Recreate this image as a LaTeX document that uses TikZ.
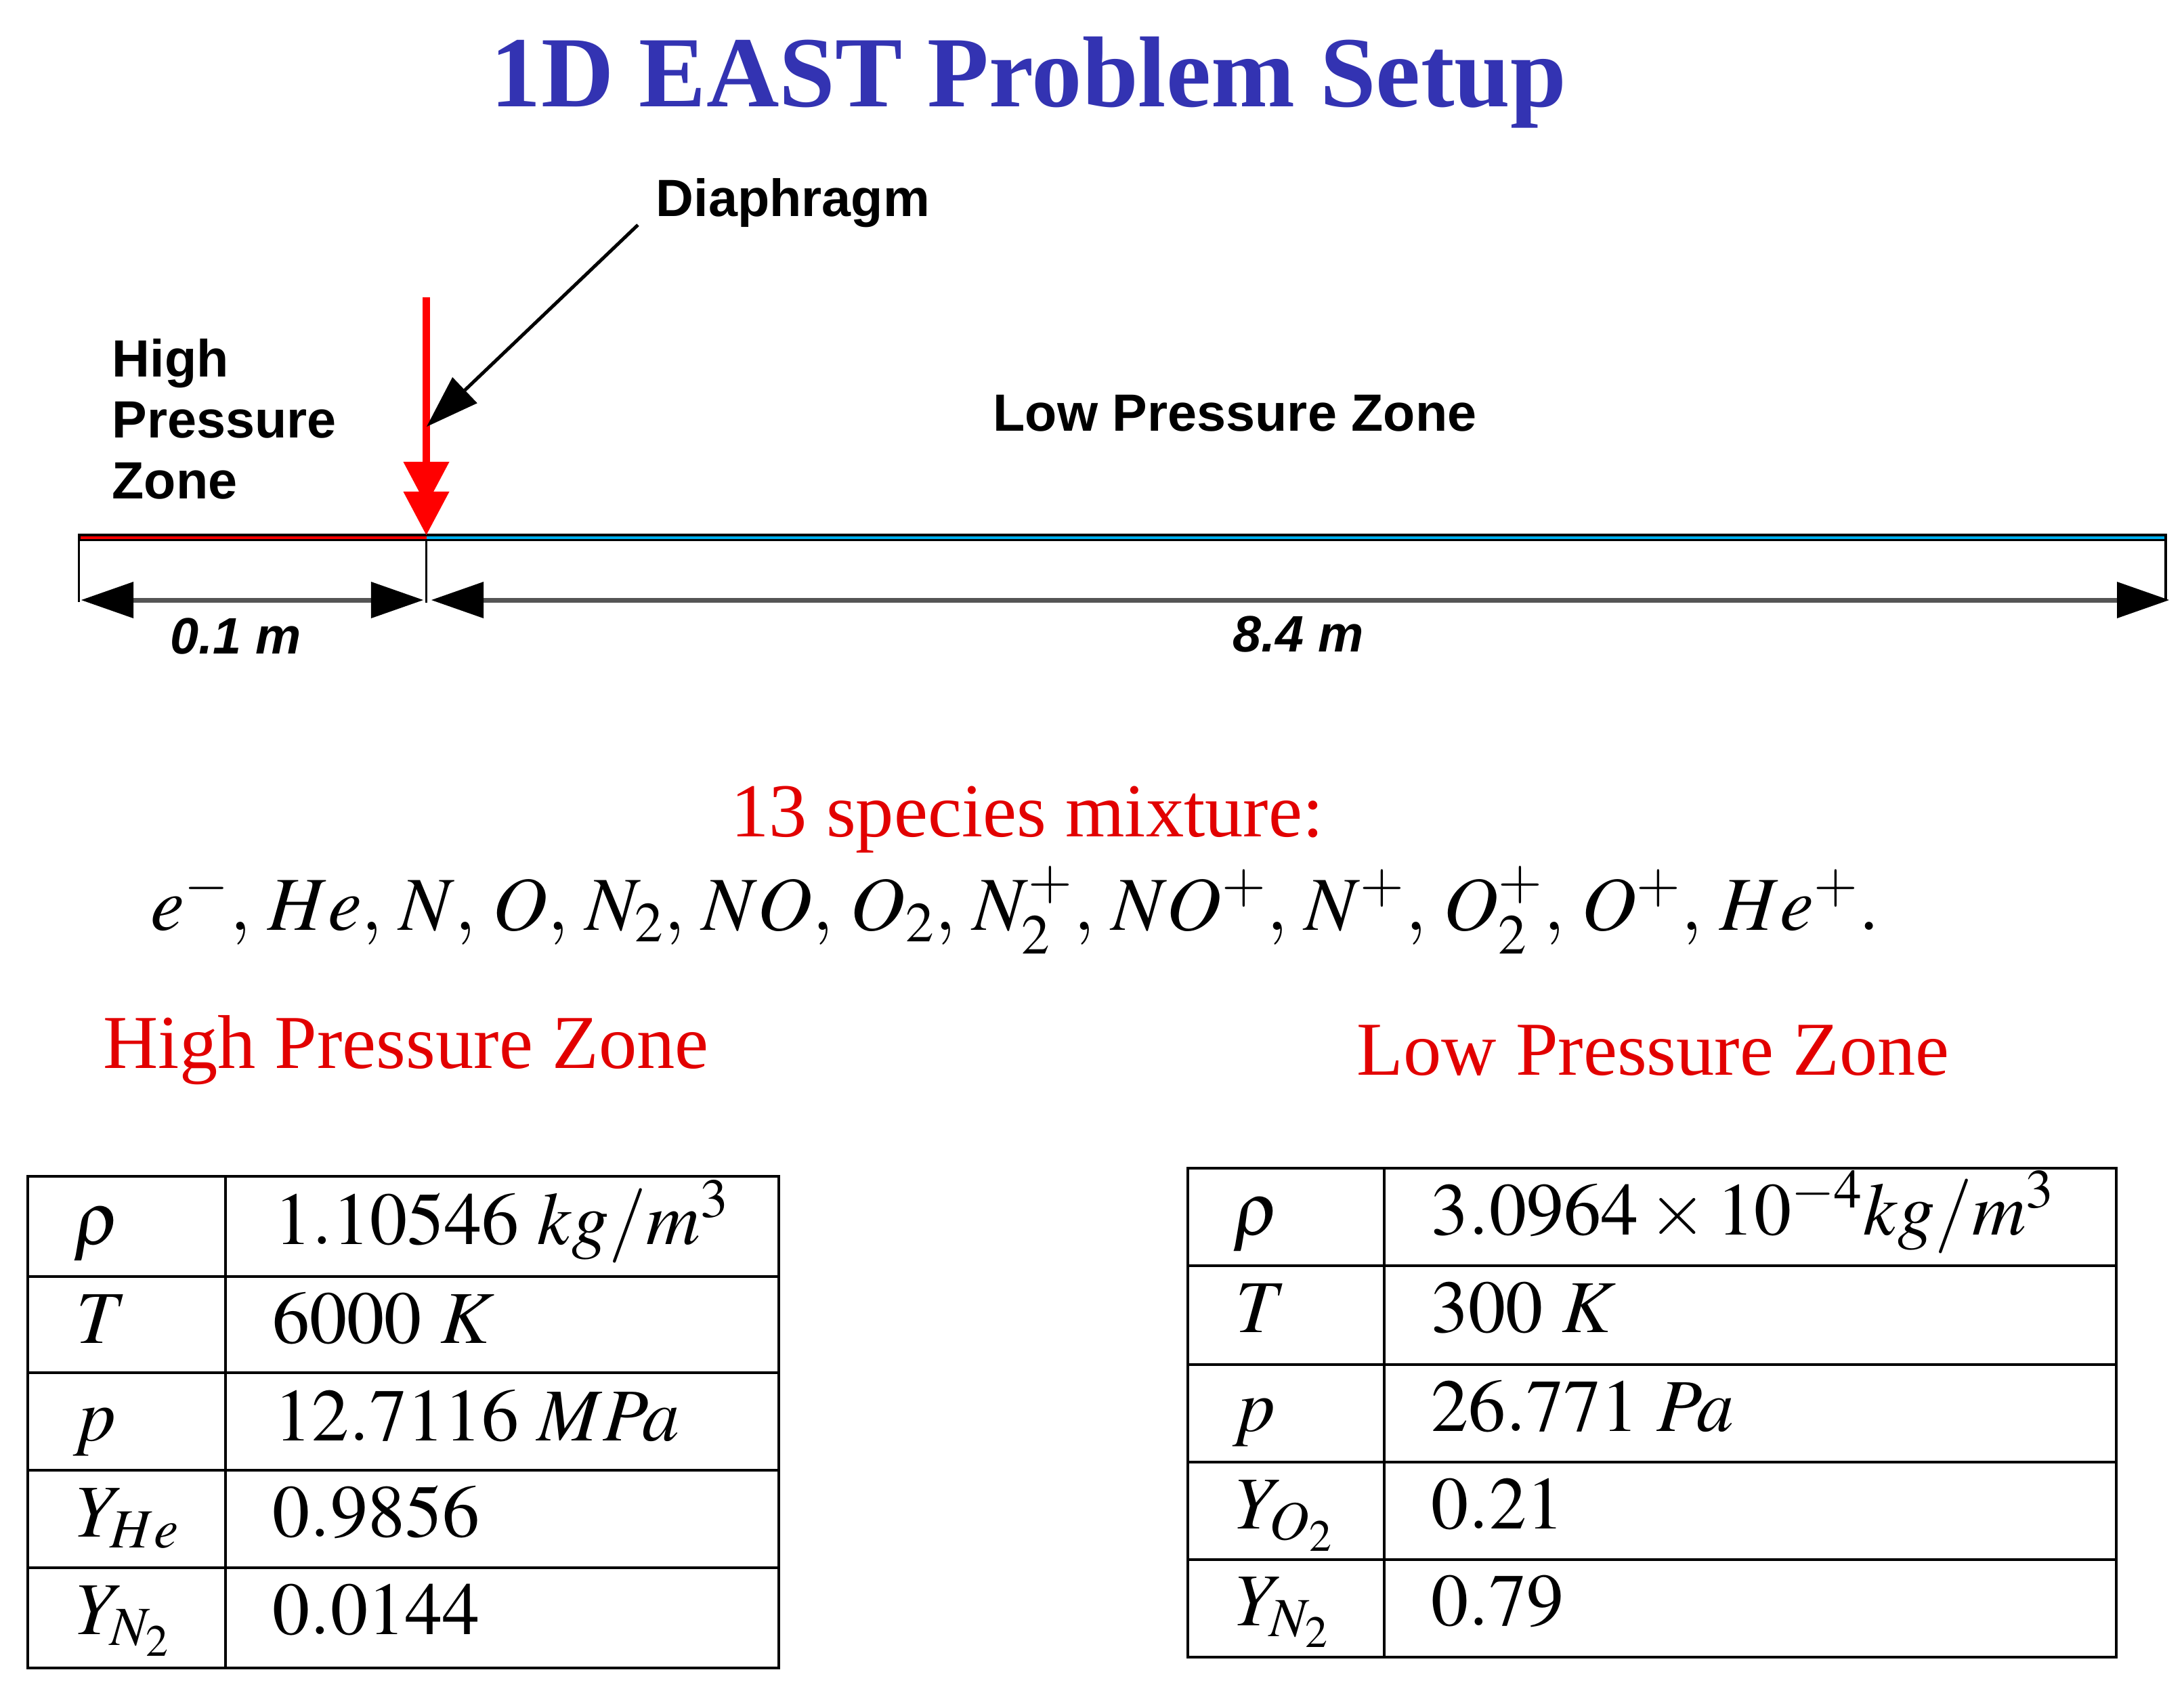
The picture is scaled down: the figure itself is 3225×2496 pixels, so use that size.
\documentclass[tikz,border=0pt]{standalone}
\usepackage{mathptmx}
\usepackage[no-math]{fontspec}
\setmainfont{Liberation Serif}
\setsansfont{Liberation Sans}
\usetikzlibrary{arrows.meta}
\definecolor{titleblue}{RGB}{51,51,178}
\definecolor{txtred}{RGB}{226,0,0}
\definecolor{tubeblue}{RGB}{0,176,240}
\definecolor{dimgray}{RGB}{85,85,85}
\newcommand{\sep}{,\mskip 2mu}
\tikzset{
  lbl/.style={font=\sffamily\bfseries\fontsize{22}{26}\selectfont, inner sep=0pt, anchor=base west},
  dimlbl/.style={font=\sffamily\bfseries\itshape\fontsize{21.5}{25}\selectfont, inner sep=0pt, anchor=base west},
  redhead/.style={font=\fontsize{32}{38}\selectfont, text=txtred, inner sep=0pt, anchor=base west},
  cell/.style={font=\fontsize{31.3}{37}\selectfont, inner sep=0pt, anchor=base west},
  gridline/.style={line width=0.045cm},
  ticks/.style={line width=0.035cm},
  dimarrow/.style={draw=dimgray, line width=0.07cm,
    {Triangle[length=0.77cm,width=0.54cm,color=black,line width=0pt]}-{Triangle[length=0.77cm,width=0.54cm,color=black,line width=0pt]}},
  redarrow/.style={draw=red, line width=0.11cm, -{Triangle[length=0.64cm,width=0.68cm,line width=0pt]}},
  diaarrow/.style={line width=0.05cm, -{Triangle[length=0.78cm,width=0.53cm,line width=0pt]}},
}
\begin{document}
\begin{tikzpicture}[x=0.01cm,y=-0.01cm]
\useasboundingbox (0,0) rectangle (3225,2496);

% title
\node[font=\bfseries\fontsize{42.3}{50}\selectfont, text=titleblue, inner sep=0pt, anchor=base] (title) at (1519,157) {1D EAST Problem Setup};

% top labels
\node[lbl] (dia) at (968,319) {Diaphragm};
\node[lbl] (hp1) at (165,556) {High};
\node[lbl] (hp2) at (165,646) {Pressure};
\node[lbl] (hp3) at (165,736) {Zone};
\node[lbl] (lpz) at (1466,636) {Low Pressure Zone};

% tube
\fill[black] (115,788) rectangle (3200,799);
\fill[red] (119,792) rectangle (630,796);
\fill[tubeblue] (630,792) rectangle (3196,796);

% ticks
\coordinate (tubeL) at (116.5,788);
\coordinate (dimL) at (116.5,889);
\coordinate (tubeM) at (629.5,799);
\coordinate (dimM) at (629.5,890);
\coordinate (tubeR) at (3198,788);
\coordinate (dimR) at (3198,887);
\draw[ticks] (tubeL) -- (dimL);
\draw[ticks] (tubeM) -- (dimM);
\draw[ticks] (tubeR) -- (dimR);

% dimension arrows
\coordinate (a1s) at (120,886);
\coordinate (a1e) at (625,886);
\coordinate (a2s) at (637,886);
\coordinate (a2e) at (3203,886);
\draw[dimarrow] (a1s) -- (a1e);
\draw[dimarrow] (a2s) -- (a2e);
\node[dimlbl] (d1) at (251,965) {0.1 m};
\node[dimlbl] (d2) at (1820,962) {8.4 m};

% red diaphragm arrow (double head)
\coordinate (rtop) at (629.5,439);
\coordinate (rtip1) at (629.5,746);
\coordinate (rmid) at (629.5,700);
\coordinate (rtip) at (629.5,790);
\draw[redarrow] (rtop) -- (rtip1);
\draw[redarrow] (rmid) -- (rtip);

% black pointer from Diaphragm label
\coordinate (dtip) at (630,630);
\draw[diaarrow] ([xshift=-0.26cm,yshift=0.04cm]dia.south west) -- (dtip);

% species
\node[font=\fontsize{32}{38}\selectfont, text=txtred, inner sep=0pt, anchor=base] (spec) at (1517,1235) {13 species mixture:};
\node[font=\fontsize{32}{38}\selectfont, inner sep=0pt, anchor=base west] (speclist) at (222,1373)
  {$e^-\sep He\sep N\sep O\sep N_2\sep NO\sep O_2\sep N_2^+\sep NO^+\sep N^+\sep O_2^+\sep O^+\sep He^+.$};

% zone headings
\node[redhead] (hpz) at (152,1577) {High Pressure Zone};
\node[redhead] (lpz2) at (2003,1587) {Low Pressure Zone};

% left table
\draw[gridline] (41,1737) rectangle (1150,2463);
\draw[gridline] (333,1737) -- (333,2463);
\foreach \yy in {1885,2027,2171,2315} \draw[gridline] (41,\yy) -- (1150,\yy);
\node[cell] (lrho) at (108,1837) {$\rho$};
\node[cell] (lT) at (112,1983) {$T$};
\node[cell] (lp) at (108,2127) {$p$};
\node[cell] (lY1) at (112,2269) {$Y_{He}$};
\node[cell] (lY2) at (112,2413) {$Y_{N_2}$};
\node[cell] (lv1) at (405,1837) {$1.10546\ kg/m^3$};
\node[cell] (lv2) at (402,1983) {$6000\ K$};
\node[cell] (lv3) at (405,2127) {$12.7116\ MPa$};
\node[cell] (lv4) at (402,2269) {$0.9856$};
\node[cell] (lv5) at (402,2413) {$0.0144$};

% right table
\draw[gridline] (1754,1725) rectangle (3125,2447);
\draw[gridline] (2044,1725) -- (2044,2447);
\foreach \yy in {1869,2015,2159,2303} \draw[gridline] (1754,\yy) -- (3125,\yy);
\node[cell] (rrho) at (1820,1823) {$\rho$};
\node[cell] (rT) at (1824,1967) {$T$};
\node[cell] (rp) at (1820,2113) {$p$};
\node[cell] (rY1) at (1824,2257) {$Y_{O_2}$};
\node[cell] (rY2) at (1824,2400) {$Y_{N_2}$};
\node[cell] (rv1) at (2113,1823) {$3.0964\times10^{-4}kg/m^3$};
\node[cell] (rv2) at (2113,1967) {$300\ K$};
\node[cell] (rv3) at (2113,2113) {$26.771\ Pa$};
\node[cell] (rv4) at (2113,2257) {$0.21$};
\node[cell] (rv5) at (2113,2400) {$0.79$};
\end{tikzpicture}
\end{document}
